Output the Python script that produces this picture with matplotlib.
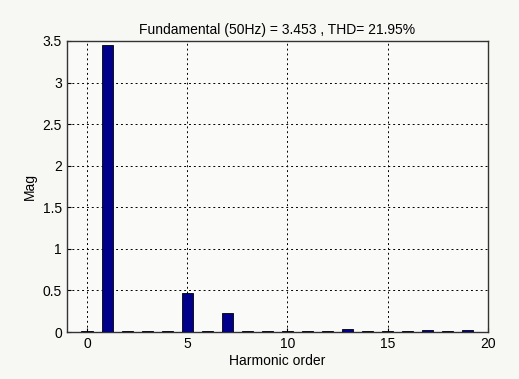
import matplotlib
matplotlib.use("Agg")
import matplotlib.pyplot as plt

plt.rcParams['font.family'] = ['Liberation Sans', 'DejaVu Sans']

orders = list(range(0, 20))
mags = [0.01, 3.453, 0.01, 0.01, 0.01, 0.47, 0.01, 0.225, 0.01, 0.01,
        0.01, 0.01, 0.01, 0.04, 0.01, 0.01, 0.01, 0.02, 0.01, 0.025]
title = "Fundamental (50Hz) = 3.453 , THD= 21.95%"

fig = plt.figure(figsize=(5.19, 3.79), dpi=100, facecolor='#f7f7f4')
ax = fig.add_axes([0.129, 0.124, 0.811, 0.768])
ax.set_facecolor('#fafaf8')

ax.bar(orders, mags, width=0.55, color='#00008b', edgecolor='black', linewidth=0.6, zorder=3)

ax.set_xlim(-1, 20)
ax.set_ylim(0, 3.5)
ax.set_xticks([0, 5, 10, 15, 20])
ax.set_yticks([0, 0.5, 1, 1.5, 2, 2.5, 3, 3.5])
ax.set_yticklabels(['0', '0.5', '1', '1.5', '2', '2.5', '3', '3.5'])
ax.grid(True, linestyle=(0, (2, 3)), color='black', linewidth=0.7, zorder=0)
ax.tick_params(direction='in', labelsize=10, length=3)
for s in ax.spines.values():
    s.set_linewidth(1.0)
    s.set_color('#333333')

ax.set_title(title, fontsize=10, pad=5)
ax.set_xlabel("Harmonic order", fontsize=10, labelpad=2)
ax.set_ylabel("Mag", fontsize=10, labelpad=4)

fig.savefig("out.png", dpi=100, facecolor=fig.get_facecolor())
